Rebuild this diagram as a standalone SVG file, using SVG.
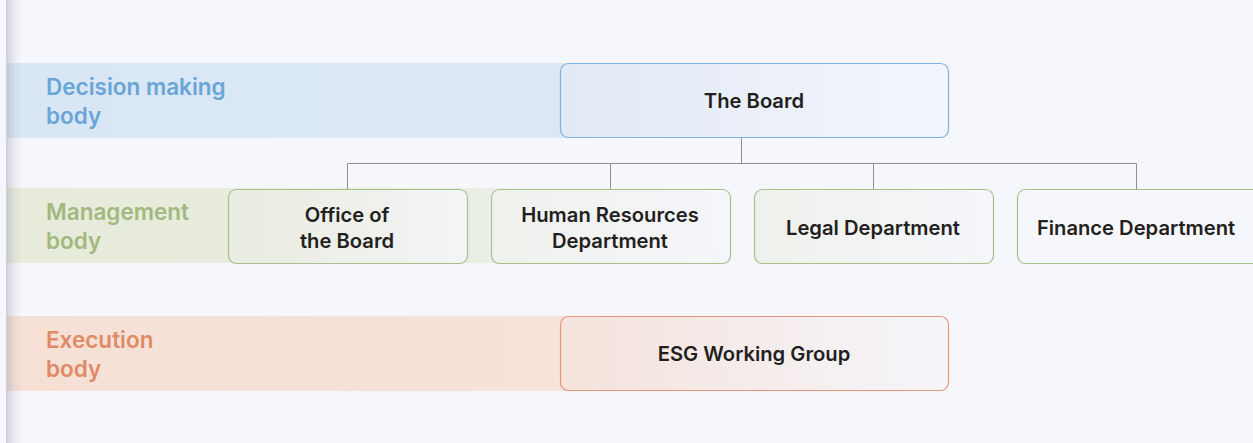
<svg xmlns="http://www.w3.org/2000/svg" width="1253" height="443" viewBox="0 0 1253 443">
  <defs>
    <linearGradient id="bandBlue" x1="0" y1="0" x2="1" y2="0" gradientUnits="objectBoundingBox">
      <stop offset="0" stop-color="#d9e6f4"/>
      <stop offset="0.55" stop-color="#dbe7f4"/>
      <stop offset="1" stop-color="#f6f7fc" stop-opacity="0"/>
    </linearGradient>
    <linearGradient id="bandGreen" x1="0" y1="0" x2="1" y2="0">
      <stop offset="0" stop-color="#e7ebdb"/>
      <stop offset="0.6" stop-color="#e9ecdf"/>
      <stop offset="1" stop-color="#f6f7fc" stop-opacity="0"/>
    </linearGradient>
    <linearGradient id="bandOrange" x1="0" y1="0" x2="1" y2="0">
      <stop offset="0" stop-color="#f6e0d6"/>
      <stop offset="0.55" stop-color="#f6e3da"/>
      <stop offset="1" stop-color="#f6f7fc" stop-opacity="0"/>
    </linearGradient>
    <linearGradient id="boxBlue" x1="0" y1="0" x2="1" y2="0">
      <stop offset="0" stop-color="#e2eaf6"/>
      <stop offset="1" stop-color="#f3f5fb"/>
    </linearGradient>
    <linearGradient id="boxGreen" x1="0" y1="0" x2="1" y2="0">
      <stop offset="0" stop-color="#e9ecdf"/>
      <stop offset="1" stop-color="#f3f4f6"/>
    </linearGradient>
    <linearGradient id="boxGreenLight" x1="0" y1="0" x2="1" y2="0">
      <stop offset="0" stop-color="#eff1ec"/>
      <stop offset="1" stop-color="#f5f6fb"/>
    </linearGradient>
    <linearGradient id="boxOrange" x1="0" y1="0" x2="1" y2="0">
      <stop offset="0" stop-color="#f5e3dc"/>
      <stop offset="1" stop-color="#f5f5fa"/>
    </linearGradient>
    <linearGradient id="edgeShade" x1="0" y1="0" x2="1" y2="0">
      <stop offset="0" stop-color="#8d939c" stop-opacity="0.4"/>
      <stop offset="0.35" stop-color="#a4a9b1" stop-opacity="0.25"/>
      <stop offset="1" stop-color="#c0c4cb" stop-opacity="0"/>
    </linearGradient>
    <style>
      .lbl { font-family: Inter, "Liberation Sans", sans-serif; font-size: 22.5px; font-weight: 600; }
      .node text { font-family: Inter, "Liberation Sans", sans-serif; font-size: 20.2px; font-weight: 600; fill: #231f20; text-anchor: middle; }
      .conn { fill: none; stroke: #8e8f94; stroke-width: 1; }
    </style>
  </defs>

  <!-- page background -->
  <rect x="0" y="0" width="1253" height="443" fill="#f6f7fc"/>

  <!-- level bands -->
  <rect x="7" y="63" width="1000" height="75" fill="url(#bandBlue)"/>
  <rect x="7" y="188" width="745" height="75" fill="url(#bandGreen)"/>
  <rect x="7" y="316" width="1000" height="75" fill="url(#bandOrange)"/>

  <!-- left edge shading -->
  <rect x="6" y="0" width="16" height="443" fill="url(#edgeShade)"/>

  <!-- level labels -->
  <g id="label-decision">
    <text class="lbl" x="46" y="95" fill="#69a5d8">Decision making</text>
    <text class="lbl" x="46" y="124" fill="#69a5d8">body</text>
  </g>
  <g id="label-management">
    <text class="lbl" x="46" y="220" fill="#a2b97e">Management</text>
    <text class="lbl" x="46" y="249" fill="#a2b97e">body</text>
  </g>
  <g id="label-execution">
    <text class="lbl" x="46" y="348" fill="#e08a66">Execution</text>
    <text class="lbl" x="46" y="377" fill="#e08a66">body</text>
  </g>

  <!-- connectors -->
  <g id="connectors">
    <path class="conn" d="M741.5 137 V163.5"/>
    <path class="conn" d="M347.5 163.5 H1136.5"/>
    <path class="conn" d="M347.5 163.5 V189"/>
    <path class="conn" d="M610.5 163.5 V189"/>
    <path class="conn" d="M873.5 163.5 V189"/>
    <path class="conn" d="M1136.5 163.5 V189"/>
  </g>

  <!-- nodes -->
  <g id="node-board" class="node">
    <rect x="560.5" y="63.5" width="388" height="74" rx="8" fill="url(#boxBlue)" stroke="#7db2e0" stroke-width="1.2"/>
    <text x="754" y="108">The Board</text>
  </g>

  <g id="node-office" class="node">
    <rect x="228.5" y="189.5" width="239" height="74" rx="8" fill="url(#boxGreen)" stroke="#a9c08b" stroke-width="1.2"/>
    <text x="347" y="221.5">Office of</text>
    <text x="347" y="248">the Board</text>
  </g>

  <g id="node-hr" class="node">
    <rect x="491.5" y="189.5" width="239" height="74" rx="8" fill="url(#boxGreenLight)" stroke="#a9c08b" stroke-width="1.2"/>
    <text x="610" y="221.5">Human Resources</text>
    <text x="610" y="248">Department</text>
  </g>

  <g id="node-legal" class="node">
    <rect x="754.5" y="189.5" width="239" height="74" rx="8" fill="url(#boxGreenLight)" stroke="#a9c08b" stroke-width="1.2"/>
    <text x="873" y="235">Legal Department</text>
  </g>

  <g id="node-finance" class="node">
    <rect x="1017.5" y="189.5" width="245" height="74" rx="8" fill="#f6f7fc" stroke="#a9c08b" stroke-width="1.2"/>
    <text x="1136" y="235">Finance Department</text>
  </g>

  <g id="node-esg" class="node">
    <rect x="560.5" y="316.5" width="388" height="74" rx="8" fill="url(#boxOrange)" stroke="#e8957a" stroke-width="1.2"/>
    <text x="754" y="361">ESG Working Group</text>
  </g>
</svg>
